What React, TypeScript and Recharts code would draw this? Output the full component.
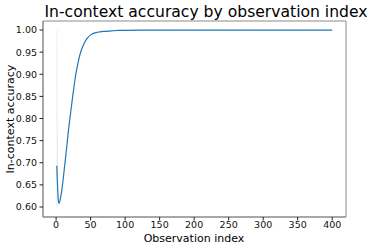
import React from "react";
import { Area, ComposedChart, Line, ReferenceArea, XAxis, YAxis } from "recharts";

const obsIndex = [1, 2, 3, 4, 5, 6, 8, 10, 12, 14, 16, 18, 20, 22, 24, 26, 28, 30, 33, 36, 40, 45, 50, 55, 60, 70, 80, 90, 100, 125, 150, 200, 250, 300, 350, 400];
const accuracy = [0.693, 0.65, 0.618, 0.608, 0.611, 0.618, 0.635, 0.66, 0.688, 0.716, 0.745, 0.775, 0.8, 0.825, 0.85, 0.873, 0.895, 0.912, 0.935, 0.952, 0.968, 0.981, 0.989, 0.993, 0.995, 0.997, 0.998, 0.999, 0.9993, 0.9997, 0.9999, 1.0, 1.0, 1.0, 1.0, 1.0];
// confidence band, only visible at the first observations
const bandLow = [0.598, 0.65];
const bandHigh = [1.0, 0.65];

const xTicks = [0, 50, 100, 150, 200, 250, 300, 350, 400];
const yTicks = [0.6, 0.65, 0.7, 0.75, 0.8, 0.85, 0.9, 0.95, 1.0];

const xDomain: [number, number] = [-19, 420];
const yDomain: [number, number] = [0.5774, 1.0204];

const data = obsIndex.map((x, i) => ({
  x,
  acc: accuracy[i],
  band: i < bandLow.length ? [bandLow[i], bandHigh[i]] : null,
}));

const font = "DejaVu Sans";
const blue = "#1f77b4";
const spine = "#8a8a8a";

const App = () => {
  return (
    <div style={{ position: "absolute", left: 0, top: 0, width: 374, height: 248, background: "#fff" }}>
      <ComposedChart
        width={374}
        height={248}
        data={data}
        margin={{ top: 21, right: 28, left: 0, bottom: 0 }}
        style={{ fontFamily: font }}
      >
        <XAxis
          dataKey="x"
          type="number"
          domain={xDomain}
          ticks={xTicks}
          height={31}
          tickSize={3.5}
          tickMargin={1}
          stroke={spine}
          tick={{ fill: "#111", fontSize: 9.5 }}
          tickLine={{ stroke: "#222" }}
          allowDataOverflow
        />
        <YAxis
          type="number"
          domain={yDomain}
          ticks={yTicks}
          width={43}
          tickSize={3.5}
          tickMargin={2.5}
          stroke={spine}
          tick={{ fill: "#111", fontSize: 9.5 }}
          tickLine={{ stroke: "#222" }}
          tickFormatter={(v: number) => v.toFixed(2)}
          allowDataOverflow
        />
        <ReferenceArea x1={xDomain[0]} x2={xDomain[1]} y1={yDomain[0]} y2={yDomain[1]} fill="none" stroke={spine} strokeWidth={1} ifOverflow="extendDomain" />
        <Area dataKey="band" type="linear" stroke={blue} strokeOpacity={0.12} strokeWidth={0.8} fill={blue} fillOpacity={0.15} isAnimationActive={false} />
        <Line dataKey="acc" type="monotone" stroke={blue} strokeWidth={1.2} dot={false} isAnimationActive={false} />
        <text x={206} y={17} textAnchor="middle" fontSize={15.6} fontFamily={font} fill="#000">
          In-context accuracy by observation index
        </text>
        <text x={194} y={242} textAnchor="middle" fontSize={11} fontFamily={font} fill="#000">
          Observation index
        </text>
        <text x={14} y={119} transform="rotate(-90 14 119)" textAnchor="middle" fontSize={11} fontFamily={font} fill="#000">
          In-context accuracy
        </text>
      </ComposedChart>
    </div>
  );
};

export default App;
